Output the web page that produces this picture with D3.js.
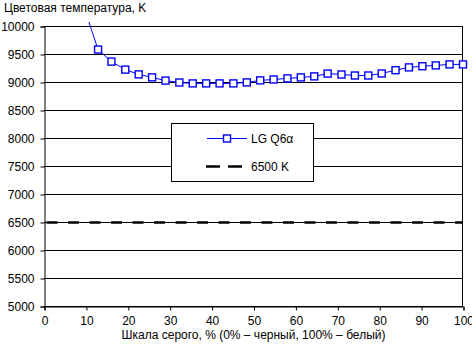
<!DOCTYPE html>
<html>
<head>
<meta charset="utf-8">
<script src="https://cdn.jsdelivr.net/npm/d3@7"></script>
<style>
  html, body { margin: 0; padding: 0; background: #fff; }
  svg { display: block; font-family: Arial, "Liberation Sans", sans-serif; }
</style>
</head>
<body>
<svg id="chart" width="472" height="349"></svg>
<script>
// ---- data ----
const grayPercent = [9.7, 12.9, 16.1, 19.4, 22.6, 25.8, 29.0, 32.3, 35.5, 38.7, 41.9, 45.2, 48.4, 51.6, 54.8, 58.1, 61.3, 64.5, 67.7, 71.0, 74.2, 77.4, 80.6, 83.9, 87.1, 90.3, 93.5, 96.8, 100];
const colorTemp = [10300, 9580, 9364, 9221, 9136, 9082, 9025, 8991, 8975, 8975, 8975, 8975, 8993, 9029, 9045, 9064, 9082, 9100, 9150, 9134, 9116, 9116, 9152, 9211, 9261, 9282, 9296, 9314, 9314];
const referenceTemp = 6500;
const xTicks = [0, 10, 20, 30, 40, 50, 60, 70, 80, 90, 100];
const yTicks = [5000, 5500, 6000, 6500, 7000, 7500, 8000, 8500, 9000, 9500, 10000];
const seriesName = "LG Q6α";
const referenceName = "6500 K";
const yTitle = "Цветовая температура, K";
const xTitle = "Шкала серого, % (0% – черный, 100% – белый)";

// ---- drawing ----
const svg = d3.select("#chart");
const x = d3.scaleLinear().domain([0, 100]).range([44, 463]);
const y = d3.scaleLinear().domain([5000, 10000]).range([306, 26]);
const blue = "#0000ff";

// gridlines
svg.append("g").selectAll("line").data(yTicks).join("line")
  .attr("x1", x(0)).attr("x2", x(100))
  .attr("y1", d => Math.round(y(d)) + 0.5).attr("y2", d => Math.round(y(d)) + 0.5)
  .attr("stroke", "#000").attr("stroke-width", 1);
// right border
svg.append("line").attr("x1", Math.round(x(100)) - 0.5).attr("x2", Math.round(x(100)) - 0.5)
  .attr("y1", y(10000)).attr("y2", y(5000)).attr("stroke", "#000");

// y axis
const yAxis = svg.append("g").attr("transform", `translate(${x(0) + 0.5},0.5)`)
  .call(d3.axisLeft(y).tickValues(yTicks).tickSize(4).tickPadding(6).tickFormat(d3.format("d")));
// x axis
const xAxis = svg.append("g").attr("transform", `translate(0.5,${Math.round(y(5000)) + 0.5})`)
  .call(d3.axisBottom(x).tickValues(xTicks).tickSize(4).tickPadding(6).tickFormat(d3.format("d")));
[yAxis, xAxis].forEach(a => {
  a.select(".domain").attr("stroke", "#000");
  a.selectAll(".tick line").attr("stroke", "#000");
  a.selectAll("text").attr("fill", "#000").style("font-size", "12px").style("font-family", "Arial, 'Liberation Sans', sans-serif");
});
xAxis.selectAll("text").attr("dy", "0.71em");

// reference dashed line
svg.append("line")
  .attr("x1", x(0)).attr("x2", x(100))
  .attr("y1", y(referenceTemp) + 0.5).attr("y2", y(referenceTemp) + 0.5)
  .attr("stroke", "#000").attr("stroke-width", 2.5)
  .attr("stroke-dasharray", "11,10.5").attr("stroke-dashoffset", 19);

// clip for series line
svg.append("clipPath").attr("id", "clip").append("rect")
  .attr("x", x(0)).attr("y", 22).attr("width", x(100) - x(0) + 5).attr("height", y(5000) - 22);

const pts = grayPercent.map((g, i) => ({ g, t: colorTemp[i] }));
svg.append("path").datum(pts)
  .attr("clip-path", "url(#clip)")
  .attr("d", d3.line().x(d => x(d.g)).y(d => y(d.t)))
  .attr("fill", "none").attr("stroke", blue).attr("stroke-width", 1);

const ms = 7;
svg.append("g").selectAll("rect").data(pts.filter(d => d.t <= 10000)).join("rect")
  .attr("x", d => x(d.g) - ms / 2).attr("y", d => y(d.t) - ms / 2)
  .attr("width", ms).attr("height", ms)
  .attr("fill", "#fff").attr("stroke", blue).attr("stroke-width", 1.4);

// titles
svg.append("text").attr("x", 4).attr("y", 12).text(yTitle)
  .attr("fill", "#000").style("font-size", "12px");
svg.append("text").attr("x", (x(0) + x(100)) / 2).attr("y", 339).attr("text-anchor", "middle")
  .text(xTitle).attr("fill", "#000").style("font-size", "12px");

// legend
const lg = svg.append("g");
lg.append("rect").attr("x", 171.5).attr("y", 123.5).attr("width", 142).attr("height", 58)
  .attr("fill", "#fff").attr("stroke", "#000").attr("stroke-width", 1);
lg.append("line").attr("x1", 207).attr("x2", 247).attr("y1", 138.5).attr("y2", 138.5)
  .attr("stroke", blue).attr("stroke-width", 1);
lg.append("rect").attr("x", 227 - ms / 2).attr("y", 138.5 - ms / 2).attr("width", ms).attr("height", ms)
  .attr("fill", "#fff").attr("stroke", blue).attr("stroke-width", 1.4);
lg.append("text").attr("x", 251).attr("y", 142.5).text(seriesName).attr("fill", "#000").style("font-size", "12px");
lg.append("line").attr("x1", 206).attr("x2", 242).attr("y1", 166.5).attr("y2", 166.5)
  .attr("stroke", "#000").attr("stroke-width", 2.5).attr("stroke-dasharray", "14,8");
lg.append("text").attr("x", 251).attr("y", 170.5).text(referenceName).attr("fill", "#000").style("font-size", "12px");
</script>
</body>
</html>
